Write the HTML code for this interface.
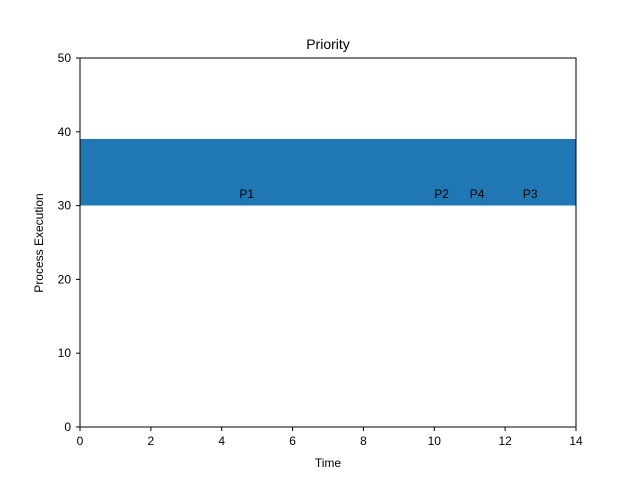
<!DOCTYPE html>
<html><head><meta charset="utf-8"><style>body{margin:0;background:#fff}svg{display:block;font-family:"Liberation Sans","DejaVu Sans",sans-serif}</style></head>
<body>
<svg id="chart" width="640" height="480">
<rect width="640" height="480" fill="#fff"/>
<text x="328" y="49" font-size="14" text-anchor="middle">Priority</text>
<g id="bars" shape-rendering="crispEdges"></g>
<g id="labels"></g>
<rect x="80" y="58" width="496" height="369" fill="none" stroke="#000" stroke-width="1"/>
<g id="xticks"></g><g id="yticks"></g>
<text x="328" y="467" font-size="12" text-anchor="middle">Time</text>
<text transform="translate(43,243) rotate(-90)" font-size="12" text-anchor="middle">Process Execution</text>
</svg>
<script>
const processes = ["P1","P2","P4","P3"];
const starts = [0,10,11,12.5];
const durations = [10,1,1.5,1.5];
const labelX = [4.5,10,11,12.5];
const barBottom = 30, barHeight = 9, labelY = 31;
const xTicks = [0,2,4,6,8,10,12,14];
const yTicks = [0,10,20,30,40,50];
const NS="http://www.w3.org/2000/svg";
const xs=v=>80+v*496/14, ys=v=>427-v*369/50;
function mk(t,a,p){const e=document.createElementNS(NS,t);for(const k in a)e.setAttribute(k,a[k]);p.appendChild(e);return e;}
const bars=document.getElementById('bars'),labels=document.getElementById('labels');
processes.forEach((p,i)=>{
 const r=mk('rect',{x:xs(starts[i]),y:ys(barBottom+barHeight),width:xs(starts[i]+durations[i])-xs(starts[i])+0.5,height:ys(barBottom)-ys(barBottom+barHeight),fill:'#1f77b4'},bars);
 
 
 const t=mk('text',{x:xs(labelX[i]),y:ys(labelY),'font-size':12},labels);t.textContent=p;
 
 
});
const xg=document.getElementById('xticks'),yg=document.getElementById('yticks');
xTicks.forEach(v=>{mk('line',{x1:xs(v),x2:xs(v),y1:427,y2:431,stroke:'#000'},xg);
 const t=mk('text',{x:xs(v),y:445,'font-size':12,'text-anchor':'middle'},xg);t.textContent=v;
 
 });
yTicks.forEach(v=>{mk('line',{x1:76,x2:80,y1:ys(v),y2:ys(v),stroke:'#000'},yg);
 const t=mk('text',{x:71,y:ys(v)+4,'font-size':12,'text-anchor':'end'},yg);t.textContent=v;
 
 });
</script>
</body></html>
